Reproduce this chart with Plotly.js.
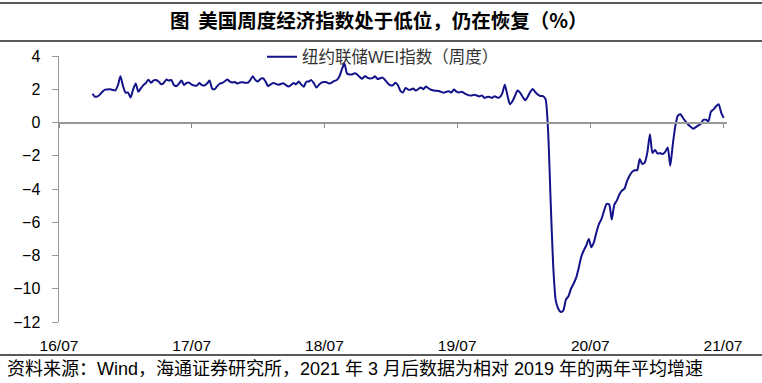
<!DOCTYPE html>
<html>
<head>
<meta charset="utf-8">
<script src="https://cdn.plot.ly/plotly-3.0.1.min.js"></script>
<style>html,body{margin:0;padding:0;background:#fff;}#chart{width:762px;height:383px;}</style>
</head>
<body>
<div id="chart"></div>
<script>
// Weekly NY Fed WEI, first week 2016-10-01
const seriesName = '纽约联储WEI指数（周度）';
const firstWeek = '2016-10-01';
const weiValues = [
1.73,1.55,1.57,1.69,1.87,1.98,1.99,2.00,1.96,1.93,
2.24,2.78,2.20,1.80,1.80,1.50,2.00,2.35,1.85,2.05,
2.25,2.38,2.57,2.39,2.53,2.56,2.46,2.30,2.38,2.58,
2.52,2.56,2.25,2.19,2.34,2.52,2.26,2.38,2.40,2.28,
2.23,2.22,2.37,2.25,2.23,2.34,2.53,2.05,2.00,2.19,
2.33,2.38,2.48,2.58,2.46,2.41,2.43,2.34,2.41,2.42,
2.39,2.39,2.55,2.78,2.55,2.47,2.63,2.66,2.47,2.18,
2.29,2.37,2.33,2.27,2.32,2.36,2.25,2.16,2.25,2.38,
2.30,2.46,2.29,2.15,2.45,2.47,2.55,2.36,2.10,2.27,
2.40,2.43,2.42,2.35,2.40,2.50,2.56,2.77,3.20,3.55,
2.95,2.89,2.89,2.96,2.89,2.73,2.63,2.79,2.70,2.65,
2.67,2.78,2.62,2.66,2.70,2.55,2.36,2.24,2.24,2.39,
2.24,1.90,1.81,2.08,1.98,1.97,2.04,1.92,2.01,2.11,
2.00,2.16,2.06,1.97,1.93,1.91,1.89,1.84,1.79,1.85,
1.88,1.80,1.98,1.86,1.81,1.85,1.77,1.69,1.63,1.62,
1.67,1.62,1.57,1.63,1.48,1.54,1.54,1.48,1.58,1.50,
1.52,1.75,2.27,1.65,1.10,1.28,1.60,1.92,1.80,1.55,
1.34,1.55,1.84,2.02,1.82,1.68,1.59,1.59,1.40,-0.50,
-4.70,-8.60,-10.70,-11.20,-11.40,-11.30,-10.65,-10.45,-10.00,-9.70,
-9.35,-8.76,-8.10,-7.70,-7.40,-7.00,-7.50,-7.20,-6.60,-6.10,
-5.80,-5.30,-4.90,-4.93,-5.84,-4.95,-4.70,-4.33,-4.10,-3.98,
-3.53,-3.20,-2.97,-2.87,-2.87,-2.20,-2.50,-2.40,-1.80,-0.70,
-1.83,-1.65,-1.87,-1.84,-1.90,-1.77,-1.50,-2.60,-1.30,-0.20,
0.41,0.50,0.27,0.07,-0.12,-0.25,-0.38,-0.28,-0.18,-0.08,
0.16,0.16,0.08,0.66,0.79,0.98,1.10,0.60,0.28
];
const xTickDates = ['2016-07-01','2017-07-01','2018-07-01','2019-07-01','2020-07-01','2021-07-01'];
const xTickLabels = ['16/07','17/07','18/07','19/07','20/07','21/07'];
const yTickValues = [-12,-10,-8,-6,-4,-2,0,2,4];
const xRange = ['2016-07-01','2021-07-12'];
const titleText = '图  美国周度经济指数处于低位，仍在恢复（%）';
const sourceText = '资料来源：Wind，海通证券研究所，2021 年 3 月后数据为相对 2019 年的两年平均增速';

const FONT = 'Liberation Sans, Arial, Noto Sans CJK SC, sans-serif';
const W = 762, H = 383, L = 59, R = 35, T = 56, B = 61;
const pw = W - L - R, ph = H - T - B;
const px = x => (x - L) / pw;
const py = y => (H - B - y) / ph;

const trace = {
  type: 'scatter', mode: 'lines', name: seriesName,
  x0: firstWeek, dx: 7 * 24 * 3600 * 1000,
  y: weiValues,
  line: {color: '#12128a', width: 2, shape: 'spline', smoothing: 0.6},
  hoverinfo: 'skip'
};

const layout = {
  width: W, height: H,
  margin: {l: L, r: R, t: T, b: B, pad: 0},
  paper_bgcolor: '#fff', plot_bgcolor: '#fff',
  font: {family: FONT, color: '#000'},
  title: {text: '<b>' + titleText + '</b>', xref: 'container', yref: 'container',
          x: 0.497, xanchor: 'center', y: 1 - 21 / H, yanchor: 'middle',
          font: {family: 'Noto Sans CJK SC, sans-serif', size: 19.5, color: '#000'}},
  showlegend: true,
  legend: {x: px(262), xanchor: 'left', y: py(57), yanchor: 'middle',
           bgcolor: 'rgba(0,0,0,0)', font: {family: FONT, size: 16.5, color: '#333'}},
  xaxis: {type: 'date', range: xRange, showline: false, ticks: '', showgrid: false,
          zeroline: false, tickvals: xTickDates, ticktext: xTickLabels,
          tickfont: {family: FONT, size: 15.5, color: '#000'}, ticklabelstandoff: 12},
  xaxis2: {type: 'date', overlaying: 'x', anchor: 'free', position: py(123), side: 'bottom',
           range: xRange, showline: true, linecolor: '#999', linewidth: 2,
           ticks: 'outside', ticklen: 4, tickcolor: '#888', tickwidth: 1,
           tickvals: xTickDates, showticklabels: false, showgrid: false, zeroline: false},
  yaxis: {range: [-12, 4], tickvals: yTickValues, showgrid: false, zeroline: false,
          showline: true, linecolor: '#999', linewidth: 1.5,
          ticks: 'outside', ticklen: 6, tickcolor: '#999',
          tickfont: {family: FONT, size: 16, color: '#000'}, ticklabelstandoff: 8},
  shapes: [
    {type: 'line', xref: 'paper', yref: 'paper', x0: px(0), x1: px(W), y0: py(3), y1: py(3), line: {color: '#222', width: 1.5}},
    {type: 'line', xref: 'paper', yref: 'paper', x0: px(0), x1: px(W), y0: py(41), y1: py(41), line: {color: '#222', width: 1.5}},
    {type: 'line', xref: 'paper', yref: 'paper', x0: px(0), x1: px(W), y0: py(355), y1: py(355), line: {color: '#222', width: 1.5}}
  ],
  annotations: [
    {text: sourceText, xref: 'paper', yref: 'paper', x: px(5), xanchor: 'left',
     y: py(369), yanchor: 'middle', showarrow: false,
     font: {family: FONT, size: 18, color: '#000'}}
  ]
};

const dummy = {type: 'scatter', mode: 'lines', x: [], y: [], xaxis: 'x2', showlegend: false, hoverinfo: 'skip'};

Plotly.newPlot('chart', [trace, dummy], layout, {displayModeBar: false, staticPlot: true});
</script>
</body>
</html>
